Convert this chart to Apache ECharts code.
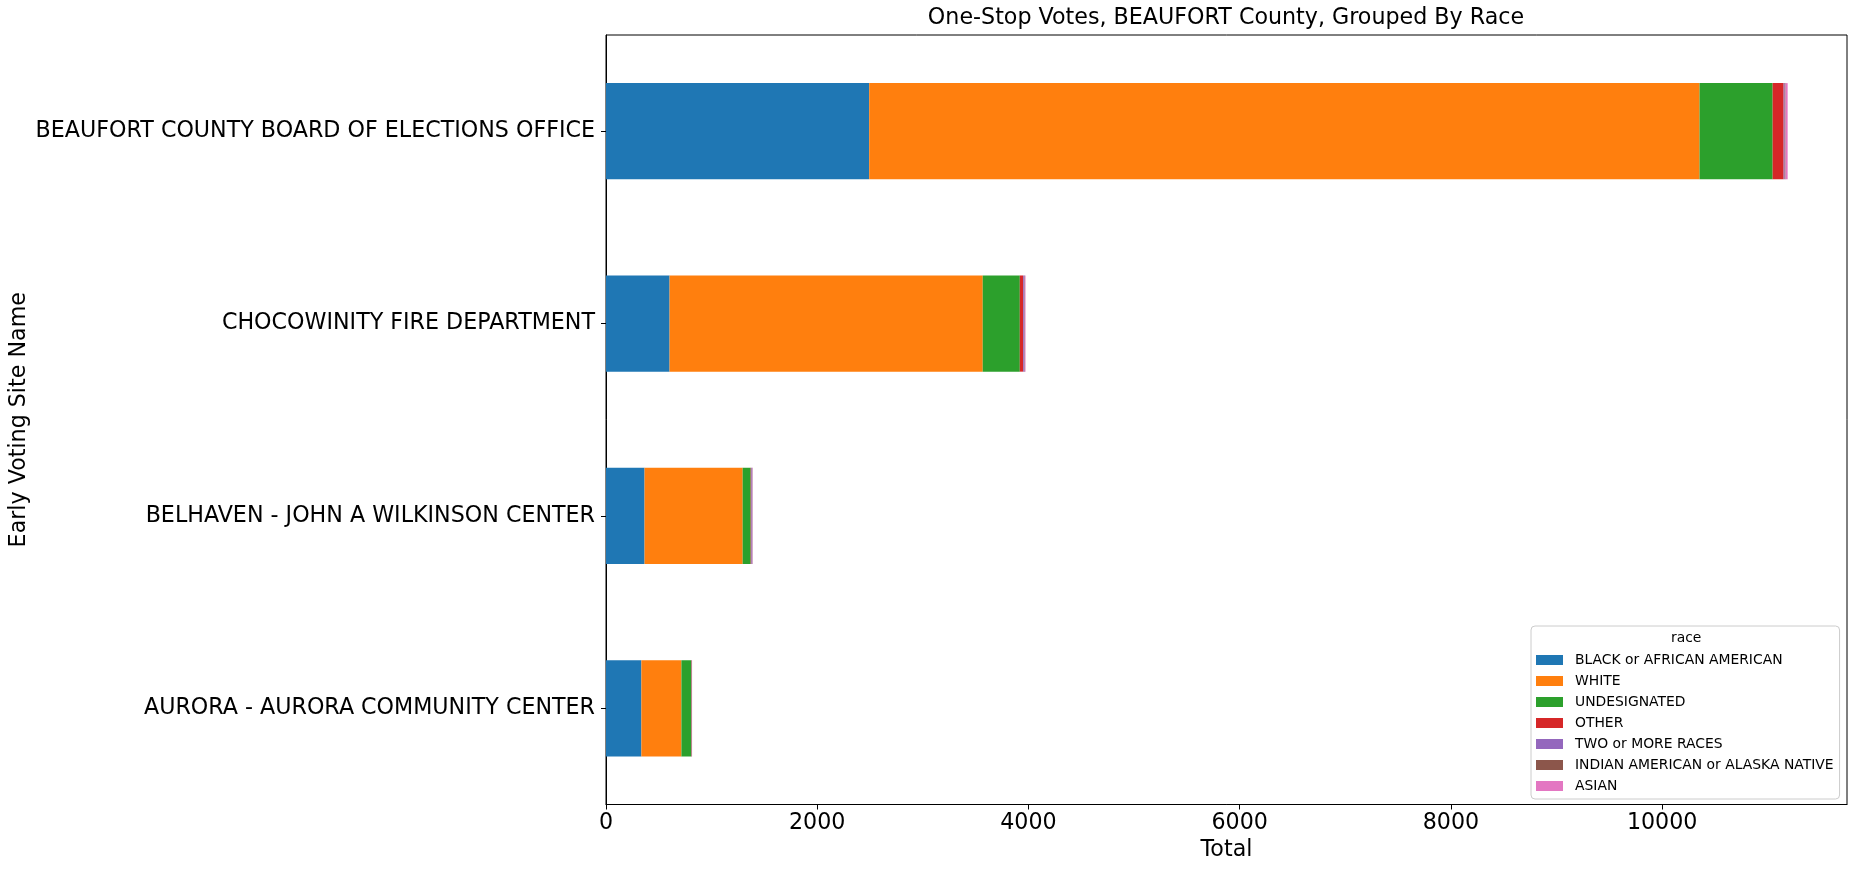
<!DOCTYPE html>
<html>
<head>
<meta charset="utf-8">
<script src="https://cdn.jsdelivr.net/npm/echarts@6/dist/echarts.min.js"></script>
<style>
html,body{margin:0;padding:0;background:#fff;}
#chart{width:1855px;height:869px;}
</style>
</head>
<body>
<div id="chart"></div>
<script>
// Categories bottom-to-top (ECharts category axis starts at bottom)
const sites = [
  'AURORA - AURORA COMMUNITY CENTER',
  'BELHAVEN - JOHN A WILKINSON CENTER',
  'CHOCOWINITY FIRE DEPARTMENT',
  'BEAUFORT COUNTY BOARD OF ELECTIONS OFFICE'
];
const races = [
  'BLACK or AFRICAN AMERICAN',
  'WHITE',
  'UNDESIGNATED',
  'OTHER',
  'TWO or MORE RACES',
  'INDIAN AMERICAN or ALASKA NATIVE',
  'ASIAN'
];
const blackVals = [335, 365, 602, 2492];
const whiteVals = [379, 929, 2965, 7862];
const undesignatedVals = [92, 76, 351, 692];
const otherVals = [3, 6, 32, 104];
const twoMoreVals = [2, 9, 13, 10];
const indianVals = [3, 2, 3, 8];
const asianVals = [1, 2, 6, 20];
const xTicks = [0, 2000, 4000, 6000, 8000, 10000];
const colors = ['#1f77b4', '#ff7f0e', '#2ca02c', '#d62728', '#9467bd', '#8c564b', '#e377c2'];

const seriesValues = [blackVals, whiteVals, undesignatedVals, otherVals, twoMoreVals, indianVals, asianVals];
const FONT = 'DejaVu Sans';
const FS = 22.2;

const chart = echarts.init(document.getElementById('chart'), null, {renderer: 'canvas'});
const option = {
  animation: false,
  backgroundColor: '#ffffff',
  textStyle: {fontFamily: FONT},
  title: {
    text: 'One-Stop Votes, BEAUFORT County, Grouped By Race',
    left: 1226,
    top: 7,
    textAlign: 'center',
    padding: 0,
    textStyle: {fontFamily: FONT, fontSize: FS, fontWeight: 'normal', color: '#000'}
  },
  grid: {
    left: 606, right: 8, top: 35, bottom: 64.5,
    show: true, borderColor: '#000', borderWidth: 1, backgroundColor: 'transparent',
    containLabel: false,
    outerBoundsMode: 'none'
  },
  legend: {
    orient: 'vertical',
    left: 1531, top: 626,
    padding: [27, 6, 6, 5],
    itemWidth: 27, itemHeight: 10, itemGap: 7,
    icon: 'rect',
    borderColor: '#cccccc', borderWidth: 1, borderRadius: 4,
    backgroundColor: 'rgba(255,255,255,0.8)',
    textStyle: {fontFamily: FONT, fontSize: 13.9, color: '#000', lineHeight: 14, padding: [0, 0, 0, 7]},
    data: races
  },
  graphic: [{
    type: 'text',
    left: 1671, top: 631,
    style: {text: 'race', fontFamily: FONT, fontSize: 13.9, fill: '#000'},
    z: 100
  }],
  xAxis: {
    type: 'value',
    min: 0, max: 11750,
    interval: 2000,
    name: 'Total',
    nameLocation: 'middle',
    nameGap: 33,
    nameTextStyle: {fontFamily: FONT, fontSize: FS, color: '#000'},
    splitLine: {show: false},
    axisLine: {show: true, lineStyle: {color: '#000', width: 1}},
    axisTick: {show: true, length: 5, lineStyle: {color: '#000'}, customValues: xTicks},
    axisLabel: {fontFamily: FONT, fontSize: FS, color: '#000', margin: 8, customValues: xTicks,
      formatter: v => String(v)}
  },
  yAxis: {
    type: 'category',
    data: sites,
    name: 'Early Voting Site Name',
    nameLocation: 'middle',
    nameRotate: 90,
    nameGap: 576,
    nameMoveOverlap: false,
    nameTextStyle: {fontFamily: FONT, fontSize: FS, color: '#000'},
    axisLine: {show: true, lineStyle: {color: '#000', width: 1}},
    axisTick: {show: true, length: 5, alignWithLabel: true, lineStyle: {color: '#000'}},
    axisLabel: {fontFamily: FONT, fontSize: FS, color: '#000', margin: 11},
    splitLine: {show: false}
  },
  series: races.map((name, i) => ({
    name: name,
    type: 'bar',
    stack: 'total',
    barWidth: '50%',
    data: seriesValues[i],
    itemStyle: {color: colors[i]},
    emphasis: {disabled: true}
  }))
};
chart.setOption(option);
</script>
</body>
</html>
